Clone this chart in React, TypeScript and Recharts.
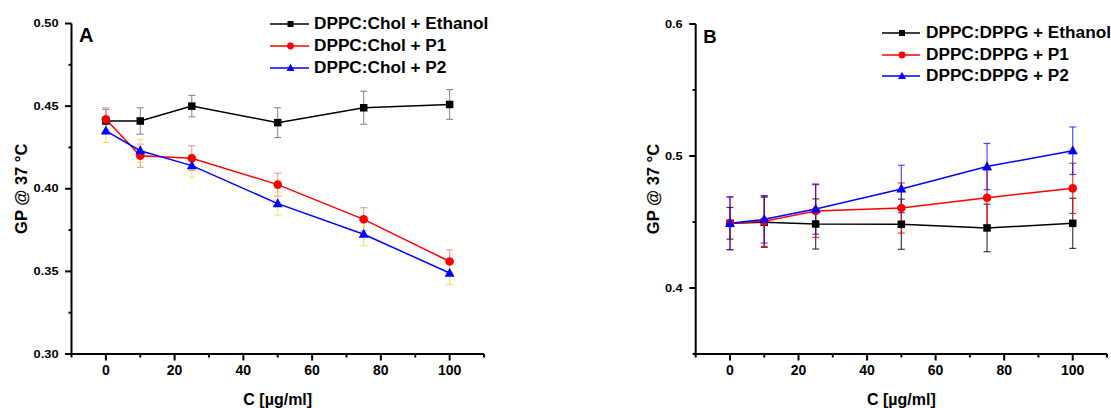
import React from "react";
import { ErrorBar, Label, Legend, Line, LineChart, XAxis, YAxis } from "recharts";

const FONT = "'Liberation Sans', Arial, Helvetica, sans-serif";

// concentration in µg/ml
const concentrations = [0, 10, 25, 50, 75, 100];

// panel A: DPPC:Chol
const cholEthanol = [0.441, 0.441, 0.45, 0.44, 0.449, 0.451];
const cholEthanolErr = [0.007, 0.008, 0.0065, 0.009, 0.01, 0.009];
const cholP1 = [0.442, 0.42, 0.4185, 0.4025, 0.3815, 0.356];
const cholP1Err = [0.007, 0.007, 0.0075, 0.007, 0.007, 0.007];
const cholP2 = [0.435, 0.423, 0.414, 0.391, 0.3725, 0.349];
const cholP2Err = [0.007, 0.007, 0.007, 0.007, 0.007, 0.007];

// panel B: DPPC:DPPG
const dppgEthanol = [0.449, 0.4498, 0.4485, 0.4483, 0.4455, 0.449];
const dppgEthanolErr = [0.012, 0.019, 0.019, 0.019, 0.018, 0.019];
const dppgP1 = [0.449, 0.4505, 0.4583, 0.4606, 0.4684, 0.4755];
const dppgP1Err = [0.02, 0.019, 0.02, 0.019, 0.021, 0.019];
const dppgP2 = [0.449, 0.452, 0.4598, 0.475, 0.492, 0.504];
const dppgP2Err = [0.02, 0.018, 0.019, 0.018, 0.0175, 0.018];

const xTicks = [-10, 0, 10, 20, 30, 40, 50, 60, 70, 80, 90, 100, 110];
const xMajor = [0, 20, 40, 60, 80, 100];
const yTicksA = [0.3, 0.325, 0.35, 0.375, 0.4, 0.425, 0.45, 0.475, 0.5];
const yMajorA = [0.3, 0.35, 0.4, 0.45, 0.5];
const yTicksB = [0.35, 0.4, 0.45, 0.5, 0.55, 0.6];
const yMajorB = [0.4, 0.5, 0.6];

const namesA = ["DPPC:Chol + Ethanol", "DPPC:Chol + P1", "DPPC:Chol + P2"];
const namesB = ["DPPC:DPPG + Ethanol", "DPPC:DPPG + P1", "DPPC:DPPG + P2"];

const dataA = concentrations.map((c, i) => ({
  c,
  eth: cholEthanol[i],
  ethErr: cholEthanolErr[i],
  p1: cholP1[i],
  p1Err: cholP1Err[i],
  p2: cholP2[i],
  p2Err: cholP2Err[i],
}));

const dataB = concentrations.map((c, i) => ({
  c,
  eth: dppgEthanol[i],
  ethErr: dppgEthanolErr[i],
  p1: dppgP1[i],
  p1Err: dppgP1Err[i],
  p2: dppgP2[i],
  p2Err: dppgP2Err[i],
}));

const colors = ["#000000", "#ff0000", "#0000ff"];
const axisStyle = { stroke: "#000", strokeWidth: 2 };

const isIn = (v: number, list: number[]) => list.some((m) => Math.abs(m - v) < 1e-9);

function Marker({ kind, cx, cy, color, s = 1 }: { kind: number; cx: number; cy: number; color: string; s?: number }) {
  if (kind === 0) {
    const w = 7.5 * s;
    return <rect x={cx - w / 2} y={cy - w / 2} width={w} height={w} fill={color} />;
  }
  if (kind === 1) return <circle cx={cx} cy={cy} r={4.3 * s} fill={color} />;
  const h = 9 * s;
  const w = 10 * s;
  return (
    <polygon
      points={`${cx},${cy - h * 0.6} ${cx - w / 2},${cy + h * 0.4} ${cx + w / 2},${cy + h * 0.4}`}
      fill={color}
    />
  );
}

const dot = (kind: number) => (props: any) => {
  const { cx, cy, index } = props;
  return <Marker key={`d${kind}-${index}`} kind={kind} cx={cx} cy={cy} color={colors[kind]} />;
};

function XTick(props: any) {
  const { x, y, payload } = props;
  const major = isIn(payload.value, xMajor);
  return (
    <g>
      <line x1={x} x2={x} y1={y} y2={y + (major ? 6.5 : 3.5)} stroke="#000" strokeWidth={2} />
      {major && (
        <text x={x} y={y + 21} textAnchor="middle" fontFamily={FONT} fontWeight={700} fontSize={14} fill="#000">
          {payload.value}
        </text>
      )}
    </g>
  );
}

function YTick(props: any) {
  const { x, y, payload, majors, digits } = props;
  const major = isIn(payload.value, majors);
  return (
    <g>
      <line x1={x - (major ? 6.5 : 3)} x2={x} y1={y} y2={y} stroke="#000" strokeWidth={2} />
      {major && (
        <text
          transform={`translate(${x - 13},${y + 3.7}) scale(1.22,1)`}
          textAnchor="end"
          fontFamily={FONT}
          fontWeight={700}
          fontSize={10.5}
          fill="#000"
        >
          {Number(payload.value).toFixed(digits)}
        </text>
      )}
    </g>
  );
}

const xTitle = (props: any) => {
  const vb = props.viewBox || {};
  const cx = vb.x + vb.width / 2;
  return (
    <text x={cx} y={vb.y + 51} textAnchor="middle" fontFamily={FONT} fontWeight={700} fontSize={16} fill="#000">
      C [µg/ml]
    </text>
  );
};

const yTitle = (gap: number) => (props: any) => {
  const vb = props.viewBox || {};
  const bx = vb.x + vb.width - gap + 6;
  const cy = vb.y + vb.height / 2;
  return (
    <text
      x={bx}
      y={cy}
      transform={`rotate(-90 ${bx} ${cy})`}
      textAnchor="middle"
      fontFamily={FONT}
      fontWeight={700}
      fontSize={16.5}
      fill="#000"
    >
      GP @ 37 °C
    </text>
  );
};

const panelLetter = (letter: string, size: number, dy: number) => (props: any) => {
  const vb = props.viewBox || {};
  return (
    <text x={vb.x + vb.width + 7.5} y={vb.y + dy} fontFamily={FONT} fontWeight={700} fontSize={size} fill="#000">
      {letter}
    </text>
  );
};

function LegendBox({ names, rowH, lineW, gap }: { names: string[]; rowH: number; lineW: number; gap: number }) {
  return (
    <div style={{ fontFamily: FONT, fontWeight: 700, fontSize: 16, color: "#000" }}>
      {names.map((n, i) => (
        <div key={n} style={{ display: "flex", alignItems: "center", height: rowH }}>
          <svg width={lineW} height={14} style={{ display: "block", overflow: "visible" }}>
            <line x1={0} x2={lineW} y1={7} y2={7} stroke={colors[i]} strokeWidth={1.5} />
            <Marker kind={i} cx={lineW / 2 + 1} cy={7} color={colors[i]} s={0.8} />
          </svg>
          <span
            style={{
              marginLeft: gap,
              display: "inline-block",
              whiteSpace: "nowrap",
              lineHeight: 1,
              transform: "scaleX(1.075)",
              transformOrigin: "left center",
            }}
          >
            {n}
          </span>
        </div>
      ))}
    </div>
  );
}

export default function App() {
  return (
    <div style={{ position: "absolute", left: 0, top: 0, width: 1111, height: 408, background: "#fff", overflow: "hidden" }}>
      <div style={{ position: "absolute", left: 0, top: 0 }}>
        <LineChart width={560} height={408} data={dataA} margin={{ top: 23.5, right: 76, bottom: 0, left: 0 }}>
          <XAxis
            type="number"
            dataKey="c"
            domain={[-10, 110]}
            ticks={xTicks}
            interval={0}
            tickSize={0}
            tickMargin={0}
            tickLine={false}
            axisLine={axisStyle}
            tick={<XTick />}
            height={54}
          >
            <Label content={xTitle} />
          </XAxis>
          <YAxis
            type="number"
            domain={[0.3, 0.5]}
            ticks={yTicksA}
            interval={0}
            tickSize={0}
            tickMargin={0}
            tickLine={false}
            axisLine={axisStyle}
            tick={<YTick majors={yMajorA} digits={2} />}
            width={71.5}
          >
            <Label content={yTitle(50.5)} />
            <Label content={panelLetter("A", 20, 18.2)} />
          </YAxis>
          <Legend
            layout="vertical"
            align="center"
            verticalAlign="middle"
            wrapperStyle={{ left: 270, top: 13.3, width: 290 }}
            content={() => <LegendBox names={namesA} rowH={22} lineW={39} gap={5} />}
          />
          <Line dataKey="eth" stroke={colors[0]} strokeWidth={1.5} dot={dot(0)} activeDot={false} isAnimationActive={false}>
            <ErrorBar dataKey="ethErr" width={3.5} stroke="#808080" strokeWidth={1} isAnimationActive={false} />
          </Line>
          <Line dataKey="p1" stroke={colors[1]} strokeWidth={1.5} dot={dot(1)} activeDot={false} isAnimationActive={false}>
            <ErrorBar dataKey="p1Err" width={3.5} stroke="#f08c8c" strokeWidth={1} isAnimationActive={false} />
          </Line>
          <Line dataKey="p2" stroke={colors[2]} strokeWidth={1.5} dot={dot(2)} activeDot={false} isAnimationActive={false}>
            <ErrorBar dataKey="p2Err" width={3.5} stroke="#ebe05a" strokeWidth={1} isAnimationActive={false} />
          </Line>
        </LineChart>
      </div>
      <div style={{ position: "absolute", left: 560, top: 0 }}>
        <LineChart width={551} height={408} data={dataB} margin={{ top: 24, right: 4, bottom: 0, left: 0 }}>
          <XAxis
            type="number"
            dataKey="c"
            domain={[-10, 110]}
            ticks={xTicks}
            interval={0}
            tickSize={0}
            tickMargin={0}
            tickLine={false}
            axisLine={axisStyle}
            tick={<XTick />}
            height={54}
          >
            <Label content={xTitle} />
          </XAxis>
          <YAxis
            type="number"
            domain={[0.35, 0.6]}
            ticks={yTicksB}
            interval={0}
            tickSize={0}
            tickMargin={0}
            tickLine={false}
            axisLine={axisStyle}
            tick={<YTick majors={yMajorB} digits={1} />}
            width={135.7}
          >
            <Label content={yTitle(43)} />
            <Label content={panelLetter("B", 18.5, 19.3)} />
          </YAxis>
          <Legend
            layout="vertical"
            align="center"
            verticalAlign="middle"
            wrapperStyle={{ left: 321.5, top: 22.6, width: 240 }}
            content={() => <LegendBox names={namesB} rowH={21.4} lineW={38} gap={6} />}
          />
          <Line dataKey="eth" stroke={colors[0]} strokeWidth={1.5} dot={dot(0)} activeDot={false} isAnimationActive={false}>
            <ErrorBar dataKey="ethErr" width={3.5} stroke="#000" strokeOpacity={0.75} strokeWidth={1.2} isAnimationActive={false} />
          </Line>
          <Line dataKey="p1" stroke={colors[1]} strokeWidth={1.5} dot={dot(1)} activeDot={false} isAnimationActive={false}>
            <ErrorBar dataKey="p1Err" width={3.5} stroke="#ff0000" strokeOpacity={0.8} strokeWidth={1.2} isAnimationActive={false} />
          </Line>
          <Line dataKey="p2" stroke={colors[2]} strokeWidth={1.5} dot={dot(2)} activeDot={false} isAnimationActive={false}>
            <ErrorBar dataKey="p2Err" width={3.5} stroke="#0000ff" strokeOpacity={0.7} strokeWidth={1.2} isAnimationActive={false} />
          </Line>
        </LineChart>
      </div>
    </div>
  );
}
